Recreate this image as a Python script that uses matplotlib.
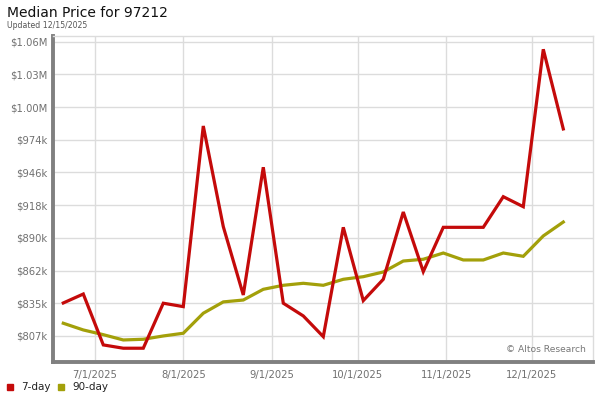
import numpy as np
import matplotlib
matplotlib.use("Agg")
import matplotlib.pyplot as plt
import matplotlib.dates as mdates
from datetime import date, timedelta

# weekly points, 6/20/2025 .. 12/12/2025
start = date(2025, 6, 20)
dates = [start + timedelta(days=7 * i) for i in range(26)]

# values in $k
day7 = [835, 842.6, 799.4, 796.6, 796.6, 834.8, 831.9, 985.2, 899.8, 841.8,
        950.2, 834.8, 824.0, 806.4, 899.2, 837.0, 855.1, 912.2, 861.6, 899.2,
        899.2, 899.2, 925.2, 916.7, 1050.3, 982.7]
day90 = [817.8, 812.1, 808.1, 803.6, 804.2, 807.0, 809.3, 826.3, 835.9, 837.5,
         846.6, 850.0, 851.7, 850.0, 855.1, 857.3, 861.3, 870.6, 872.1, 877.4,
         871.5, 871.5, 877.4, 874.6, 891.9, 903.7]

ytick_vals = [807, 834.75, 862.5, 890.25, 918, 945.75, 973.5, 1001.25, 1029, 1056.75]
ytick_labels = ["$807k", "$835k", "$862k", "$890k", "$918k", "$946k", "$974k",
                "$1.00M", "$1.03M", "$1.06M"]
xtick_dates = [date(2025, m, 1) for m in range(7, 13)]
xtick_labels = ["7/1/2025", "8/1/2025", "9/1/2025", "10/1/2025", "11/1/2025", "12/1/2025"]

red = "#c40a0a"
olive = "#a3a00a"
grid_c = "#dcdcdc"
txt_c = "#707070"

fig = plt.figure(figsize=(6, 4), dpi=100)
ax = fig.add_axes([53 / 600, 1 - 362 / 400, 540 / 600, (362 - 35.5) / 400])

ax.plot(dates, day90, color=olive, lw=2.3, solid_joinstyle="miter", zorder=3)
ax.plot(dates, day7, color=red, lw=2.3, solid_joinstyle="miter", zorder=4)

ax.set_ylim(784.9, 1062.0)
ax.set_xlim(mdates.date2num(date(2025, 6, 16)) + 0.4, mdates.date2num(date(2025, 12, 22)) + 0.4)
ax.set_yticks(ytick_vals)
ax.set_yticklabels(ytick_labels)
ax.set_xticks(xtick_dates)
ax.set_xticklabels(xtick_labels)
ax.tick_params(axis="both", length=0, labelsize=7.2, labelcolor=txt_c, pad=4)
ax.tick_params(axis="x", pad=5.5)
ax.grid(True, color=grid_c, lw=1)
ax.set_axisbelow(True)

for s in ["top", "right"]:
    ax.spines[s].set_color(grid_c)
    ax.spines[s].set_linewidth(1)
for s in ["left", "bottom"]:
    ax.spines[s].set_color("#808080")
    ax.spines[s].set_linewidth(2.8)

ax.text(0.987, 0.025, "\u00a9 Altos Research", transform=ax.transAxes,
        ha="right", va="bottom", fontsize=6.6, color="#777777")

fig.text(7 / 600, 1 - 13 / 400, "Median Price for 97212", fontsize=10,
         va="center", ha="left", color="#111111")
fig.text(7 / 600, 1 - 25 / 400, "Updated 12/15/2025", fontsize=5.6,
         va="center", ha="left", color="#555555")

# legend
fig.patches.append(plt.Rectangle((7 / 600, 1 - 389.5 / 400), 6 / 600, 6 / 400,
                                 transform=fig.transFigure, color=red))
fig.text(21 / 600, 1 - 386.5 / 400, "7-day", fontsize=7.5, va="center", color="#222222")
fig.patches.append(plt.Rectangle((58 / 600, 1 - 389.5 / 400), 6 / 600, 6 / 400,
                                 transform=fig.transFigure, color=olive))
fig.text(72 / 600, 1 - 386.5 / 400, "90-day", fontsize=7.5, va="center", color="#222222")

fig.savefig("out.png", dpi=100)
